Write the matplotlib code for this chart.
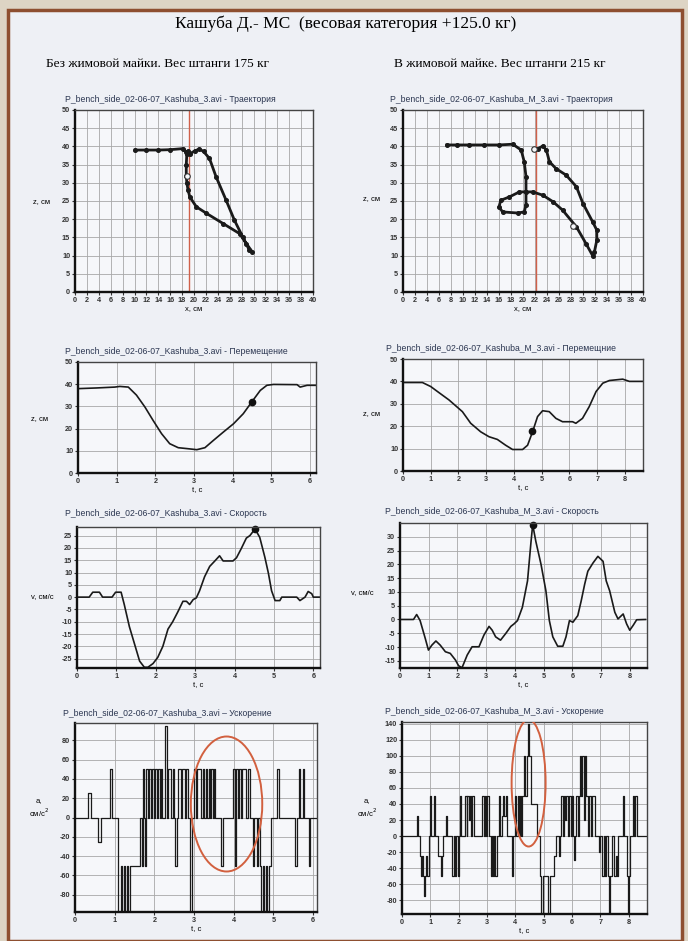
import numpy as np
import matplotlib
matplotlib.use("Agg")
import matplotlib.pyplot as plt
from matplotlib.patches import Rectangle, Ellipse

plt.rcParams['font.family'] = ['Liberation Sans', 'DejaVu Sans']
plt.rcParams['axes.unicode_minus'] = False

W, H = 688, 941

# ---- trajectory, без майки (x, z)
traj1_x = [10.1, 12.0, 14.0, 16.0, 18.2, 18.7, 19.3, 20.2, 20.9, 21.6, 22.6, 23.7, 25.4, 26.8, 28.2, 29.3, 29.8,
           28.8, 27.7, 24.9, 22.1, 20.4, 19.3, 19.0, 18.8, 18.7, 18.7, 18.8, 19.0]
traj1_z = [39.0, 39.0, 39.0, 39.1, 39.4, 38.4, 38.0, 38.8, 39.3, 38.6, 36.7, 31.7, 25.2, 19.7, 15.1, 11.5, 11.0,
           13.3, 16.0, 18.8, 21.6, 23.4, 26.1, 28.0, 30.0, 31.8, 35.0, 38.0, 38.6]
traj1_mark = (18.8, 31.8)
traj1_vline = 19.2

# ---- trajectory, в майке (x, z)
traj2_x = [21.8, 22.5, 23.3, 23.9, 24.4, 25.5, 27.2, 28.9, 30.0, 31.6, 32.3, 32.3, 31.9, 31.6, 30.5, 28.9, 26.6,
           25.0, 23.3, 21.6, 19.4, 17.7, 16.3, 16.0, 16.6, 19.1, 20.2, 20.5, 20.5, 20.5, 20.2, 19.7, 18.3, 16.0,
           13.5, 11.0, 9.0, 7.3]
traj2_z = [39.2, 39.4, 40.1, 39.0, 35.8, 33.9, 32.1, 28.9, 24.3, 19.3, 17.0, 14.2, 11.0, 10.0, 13.3, 17.9, 22.5,
           24.8, 26.6, 27.5, 27.5, 26.1, 25.2, 23.4, 22.0, 21.7, 22.0, 23.9, 27.5, 31.7, 35.8, 39.0, 40.6, 40.4,
           40.4, 40.4, 40.4, 40.4]
traj2_marks = [(28.3, 18.1), (21.8, 39.2)]
traj2_vline = 22.1

# ---- displacement z(t)
disp1_t = [0.0, 0.47, 0.95, 1.08, 1.3, 1.51, 1.73, 1.94, 2.16, 2.37, 2.59, 2.81, 3.07, 3.28, 3.5, 3.76, 4.02,
           4.27, 4.49, 4.71, 4.88, 5.05, 5.66, 5.74, 5.92, 6.16]
disp1_z = [38.0, 38.3, 38.7, 39.0, 38.7, 35.1, 29.7, 23.7, 17.7, 13.2, 11.4, 11.0, 10.5, 11.4, 14.7, 18.5, 22.2,
           26.7, 32.0, 37.2, 39.5, 39.9, 39.8, 38.7, 39.5, 39.5]
disp1_mark = (4.5, 32.0)

disp2_t = [0.0, 0.7, 1.0, 1.24, 1.66, 2.14, 2.44, 2.8, 3.1, 3.4, 3.7, 3.95, 4.31, 4.49, 4.67, 4.85, 5.03, 5.27,
           5.51, 5.75, 6.11, 6.23, 6.47, 6.71, 6.96, 7.2, 7.44, 7.68, 7.92, 8.16, 8.64]
disp2_z = [39.5, 39.5, 37.7, 35.5, 31.7, 26.5, 21.3, 17.5, 15.3, 14.1, 11.5, 9.6, 9.6, 11.5, 17.5, 24.3, 26.9,
           26.5, 23.5, 22.0, 22.0, 21.3, 23.5, 28.7, 35.5, 39.2, 40.4, 40.7, 41.0, 40.0, 40.0]
disp2_mark = (4.64, 18.0)

# ---- velocity v(t)
vel1_t = [0.0, 0.31, 0.4, 0.57, 0.65, 0.89, 0.98, 1.12, 1.2, 1.33, 1.46, 1.59, 1.71, 1.8, 1.93, 2.05, 2.18, 2.31,
          2.43, 2.56, 2.69, 2.78, 2.86, 2.95, 3.03, 3.11, 3.24, 3.37, 3.5, 3.62, 3.71, 3.96, 4.05, 4.17, 4.3,
          4.39, 4.52, 4.64, 4.77, 4.86, 4.94, 5.03, 5.15, 5.2, 5.58, 5.66, 5.79, 5.87, 5.96, 6.0, 6.17]
vel1_v = [0.0, 0.0, 2.0, 2.0, 0.0, 0.0, 2.0, 2.0, -3.0, -12.0, -19.0, -26.0, -28.5, -28.5, -27.0, -24.5, -20.0,
          -13.0, -10.0, -6.0, -1.7, -1.7, -3.0, -1.0, -0.3, 2.5, 8.3, 12.5, 14.7, 16.8, 14.7, 14.7, 16.0, 19.7,
          24.0, 25.0, 27.7, 24.3, 16.2, 9.7, 2.6, -1.4, -1.4, 0.0, 0.0, -1.4, 0.0, 2.3, 1.4, 0.0, 0.0]
vel1_mark = (4.52, 27.7)

vel2_t = [0.0, 0.47, 0.58, 0.7, 0.88, 0.99, 1.11, 1.25, 1.4, 1.58, 1.75, 1.93, 2.04, 2.16, 2.34, 2.51, 2.75, 2.92,
          3.1, 3.21, 3.33, 3.5, 3.68, 3.86, 3.97, 4.09, 4.26, 4.44, 4.56, 4.62, 4.73, 4.91, 5.08, 5.2, 5.32, 5.49,
          5.67, 5.78, 5.9, 6.02, 6.19, 6.31, 6.43, 6.54, 6.72, 6.89, 7.07, 7.18, 7.3, 7.48, 7.59, 7.77, 7.89,
          8.0, 8.12, 8.24, 8.55]
vel2_v = [0.0, 0.0, 1.8, -0.4, -6.9, -11.1, -9.3, -7.8, -9.3, -11.7, -12.3, -14.7, -16.8, -17.5, -12.9, -9.9,
          -9.9, -5.7, -2.5, -3.9, -6.3, -7.5, -5.1, -2.5, -1.6, -0.4, 4.4, 14.0, 28.0, 34.4, 28.3, 20.0, 10.4,
          -0.4, -6.3, -9.7, -9.7, -6.3, -0.4, -1.0, 1.4, 6.8, 12.8, 17.5, 20.5, 22.9, 21.1, 14.0, 10.4, 2.6, 0.2,
          2.0, -1.6, -3.9, -2.1, -0.1, 0.0]
vel2_mark = (4.62, 34.4)

# ---- acceleration a(t), step values
acc1_t = [0.00, 0.33, 0.40, 0.58, 0.65, 0.89, 0.94, 1.09, 1.16, 1.19, 1.24, 1.27, 1.31, 1.34, 1.38, 1.65,
          1.68, 1.71, 1.74, 1.77, 1.79, 1.83, 1.87, 1.92, 1.95, 1.99, 2.02, 2.06, 2.09, 2.13, 2.16, 2.20, 2.27,
          2.31, 2.35, 2.43, 2.46, 2.49, 2.53, 2.56, 2.60, 2.67, 2.70, 2.77, 2.81, 2.85, 2.91, 2.95, 3.00, 3.05,
          3.08, 3.18, 3.22, 3.26, 3.30, 3.33, 3.37, 3.40, 3.44, 3.47, 3.51, 3.54, 3.69, 3.73, 3.98, 4.03, 4.06,
          4.10, 4.14, 4.18, 4.22, 4.32, 4.36, 4.40, 4.48, 4.52, 4.58, 4.62, 4.66, 4.70, 4.74, 4.77, 4.81, 4.85,
          4.88, 4.95, 5.09, 5.13, 5.55, 5.59, 5.64, 5.68, 5.74, 5.78, 5.89, 5.93, 6.10]
acc1_a = [0, 25, 0, -25, 0, 50, 0, -100, -50, -100, -50, -100, -50, -100, -50, 0,
          -50, 50, 0, -50, 50, 0, 50, 0, 50, 0, 50, 0, 50, 0, 50, 0, 95,
          0, 50, 0, 50, 0, -50, 0, 50, 0, 50, 0, 50, 0, -100, 0, 50, 0,
          50, 0, 50, 0, 50, 0, 50, 0, 50, 0, 50, 0, -50, 0, 50, -50, 50,
          0, 50, 0, 50, 0, 50, 0, -50, 0, -50, 0, -50, -100, -50, -100, -50, -100,
          -50, 0, 50, 0, -50, 0, 50, 0, 50, 0, -50, 0, 0]
acc1_oval = (3.82, 14, 1.8, 140)

acc2_t = [0.00, 0.52, 0.57, 0.62, 0.66, 0.70, 0.74, 0.78, 0.82, 0.86, 0.90, 0.94, 0.98, 1.02, 1.13, 1.17,
          1.28, 1.36, 1.40, 1.46, 1.55, 1.60, 1.78, 1.82, 1.86, 1.92, 1.96, 2.02, 2.06, 2.10, 2.24, 2.28, 2.31,
          2.36, 2.40, 2.45, 2.48, 2.54, 2.84, 2.88, 2.92, 2.97, 3.01, 3.06, 3.13, 3.17, 3.21, 3.26, 3.30, 3.35,
          3.41, 3.45, 3.52, 3.57, 3.61, 3.66, 3.70, 3.88, 3.92, 4.00, 4.04, 4.08, 4.12, 4.16, 4.20, 4.24, 4.32,
          4.36, 4.40, 4.46, 4.50, 4.55, 4.78, 4.86, 4.92, 4.98, 5.15, 5.22, 5.36, 5.42, 5.53, 5.57, 5.63, 5.67,
          5.71, 5.76, 5.80, 5.85, 5.89, 5.95, 5.99, 6.03, 6.07, 6.11, 6.15, 6.20, 6.24, 6.30, 6.33, 6.37, 6.41,
          6.45, 6.49, 6.55, 6.59, 6.68, 6.72, 6.80, 6.96, 7.00, 7.06, 7.12, 7.16, 7.22, 7.26, 7.32, 7.36, 7.42,
          7.48, 7.54, 7.60, 7.64, 7.80, 7.84, 7.94, 7.98, 8.02, 8.06, 8.16, 8.20, 8.24, 8.30, 8.65]
acc2_a = [0, 25, 0, -25, -50, -25, -50, -75, -50, -25, -50, 0, 50, 0, 50, 0,
          -25, -50, -25, 0, 25, 0, -50, 0, -50, 0, -50, 0, 50, 0, 50, 0, 50,
          20, 50, 0, 50, 0, 50, 0, 50, 0, 50, 0, -50, 0, -50, 0, -50, 0,
          50, 0, 25, 50, 25, 50, 0, -50, 0, 50, 0, 50, 0, 50, 0, 50, 100,
          50, 100, 140, 100, 40, 0, -50, -100, -50, -100, -50, -25, 0, -25, 0, 50, 0,
          50, 20, 50, 0, 50, 0, 50, 0, -30, 0, 50, 0, 50, 100, 50, 100, 20,
          100, 50, 0, 50, 0, 50, 0, -20, 0, -50, 0, -50, 0, -50, -100, -50, 0,
          -50, -25, -50, 0, 50, 0, -50, -100, -50, 0, 50, 0, 50, 0, 0]
acc2_oval = (4.47, 66, 1.2, 158)


def rect(l, t, r, b):
    return [l / W, 1 - b / H, (r - l) / W, (b - t) / H]


def ftext(x, y, s, **kw):
    fig.text(x / W, 1 - y / H, s, **kw)


def style(ax, xlim, ylim, xticks, yticks):
    ax.set_facecolor('#f6f7fa')
    ax.set_xlim(*xlim)
    ax.set_ylim(*ylim)
    ax.set_xticks(xticks)
    ax.set_yticks(yticks)
    ax.grid(True, color='#a8a8a8', lw=0.6)
    ax.set_axisbelow(True)
    ax.tick_params(labelsize=5.2, length=2, pad=1.5, width=0.8, colors='#333')
    for lab in ax.get_xticklabels() + ax.get_yticklabels():
        lab.set_fontweight('bold')
    for s in ['left', 'bottom']:
        ax.spines[s].set_linewidth(1.7)
        ax.spines[s].set_color('#111')
    for s in ['top', 'right']:
        ax.spines[s].set_linewidth(1.0)
        ax.spines[s].set_color('#444')


fig = plt.figure(figsize=(6.88, 9.41), dpi=100)
fig.patch.set_facecolor('#ddd4c4')
fig.patches.append(Rectangle((8 / W, 0), (674) / W, 1 - 10 / H, transform=fig.transFigure,
                             facecolor='#eef0f5', edgecolor='#8e4f30', lw=2.5, zorder=-1))

ftext(346, 24, 'Кашуба Д.- МС  (весовая категория +125.0 кг)', ha='center', va='center',
      family='Liberation Serif', fontsize=12.5)
ftext(157, 64, 'Без жимовой майки. Вес штанги 175 кг', ha='center', va='center',
      family='Liberation Serif', fontsize=9.6)
ftext(500, 64, 'В жимовой майке. Вес штанги 215 кг', ha='center', va='center',
      family='Liberation Serif', fontsize=9.6)

lc = '#1a1a1a'
tc = '#2a3550'
tfs = 6.2

# trajectories
ax = fig.add_axes(rect(75, 110, 313, 292))
style(ax, (0, 40), (0, 50), range(0, 41, 2), range(0, 51, 5))
ax.axvline(traj1_vline, color='#d0604a', lw=1.0, zorder=2)
ax.plot(traj1_x, traj1_z, color=lc, lw=2.0, marker='o', ms=2.6, zorder=3)
ax.plot(*traj1_mark, marker='o', ms=4, mfc='#f6f7fa', mec='#333', mew=0.8, zorder=4)
ax.set_xlabel('x, см', fontsize=5.5, labelpad=1)
ftext(65, 100, 'P_bench_side_02-06-07_Kashuba_3.avi - Траектория', fontsize=tfs, va='center', color=tc)
ftext(42, 202, 'z, см', fontsize=5.5, ha='center', va='center')

ax = fig.add_axes(rect(403, 110, 643, 292))
style(ax, (0, 40), (0, 50), range(0, 41, 2), range(0, 51, 5))
ax.axvline(traj2_vline, color='#d0604a', lw=1.0, zorder=2)
ax.plot(traj2_x, traj2_z, color=lc, lw=2.0, marker='o', ms=2.6, zorder=3)
for m in traj2_marks:
    ax.plot(*m, marker='o', ms=4, mfc='#f6f7fa', mec='#333', mew=0.8, zorder=4)
ax.set_xlabel('x, см', fontsize=5.5, labelpad=1)
ftext(390, 99, 'P_bench_side_02-06-07_Kashuba_M_3.avi - Траектория', fontsize=tfs, va='center', color=tc)
ftext(372, 199, 'z, см', fontsize=5.5, ha='center', va='center')

# displacement
ax = fig.add_axes(rect(78, 362, 316, 473))
style(ax, (0, 6.15), (0, 50), range(0, 7), range(0, 51, 10))
ax.plot(disp1_t, disp1_z, color=lc, lw=1.2)
ax.plot(*disp1_mark, marker='o', ms=4.5, color='#111')
ax.set_xlabel('t, c', fontsize=5.5, labelpad=1)
ftext(65, 352, 'P_bench_side_02-06-07_Kashuba_3.avi - Перемещение', fontsize=tfs, va='center', color=tc)
ftext(40, 419, 'z, см', fontsize=5.5, ha='center', va='center')

ax = fig.add_axes(rect(403, 359, 643, 471))
style(ax, (0, 8.65), (0, 50), range(0, 9), range(0, 51, 10))
ax.plot(disp2_t, disp2_z, color=lc, lw=1.2)
ax.plot(*disp2_mark, marker='o', ms=4.5, color='#111')
ax.set_xlabel('t, c', fontsize=5.5, labelpad=1)
ftext(386, 349, 'P_bench_side_02-06-07_Kashuba_M_3.avi - Перемещние', fontsize=tfs, va='center', color=tc)
ftext(372, 414, 'z, см', fontsize=5.5, ha='center', va='center')

# velocity
ax = fig.add_axes(rect(77, 527, 320, 668))
style(ax, (0, 6.17), (-28.8, 28.5), range(0, 7), range(-25, 26, 5))
ax.plot(vel1_t, vel1_v, color=lc, lw=1.2)
ax.plot(*vel1_mark, marker='o', ms=4.5, color='#111', clip_on=False)
ax.set_xlabel('t, c', fontsize=5.5, labelpad=1)
ftext(65, 513, 'P_bench_side_02-06-07_Kashuba_3.avi - Скорость', fontsize=tfs, va='center', color=tc)
ftext(42, 597, 'v, см/с', fontsize=5.5, ha='center', va='center')

ax = fig.add_axes(rect(400, 523, 647, 668))
style(ax, (0, 8.6), (-17.6, 35), range(0, 9), range(-15, 31, 5))
ax.plot(vel2_t, vel2_v, color=lc, lw=1.2)
ax.plot(*vel2_mark, marker='o', ms=4.5, color='#111', clip_on=False)
ax.set_xlabel('t, c', fontsize=5.5, labelpad=1)
ftext(385, 512, 'P_bench_side_02-06-07_Kashuba_M_3.avi - Скорость', fontsize=tfs, va='center', color=tc)
ftext(362, 593, 'v, см/с', fontsize=5.5, ha='center', va='center')

# acceleration
ax = fig.add_axes(rect(75, 723, 317, 912))
style(ax, (0, 6.1), (-98, 98), range(0, 7), range(-80, 81, 20))
ax.plot(acc1_t, acc1_a, color=lc, lw=0.9, drawstyle='steps-post')
cx, cy, w, h = acc1_oval
ax.add_patch(Ellipse((cx, cy), w, h, fill=False, edgecolor='#d2603f', lw=1.4, zorder=5))
ax.set_xlabel('t, c', fontsize=5.5, labelpad=1)
ftext(63, 713, 'P_bench_side_02-06-07_Kashuba_3.avi – Ускорение', fontsize=tfs, va='center', color=tc)
ftext(39, 808, 'a,\nсм/с$^2$', fontsize=5.5, ha='center', va='center', linespacing=1.3)

ax = fig.add_axes(rect(402, 722, 647, 914))
style(ax, (0, 8.65), (-97, 142), range(0, 9), range(-80, 141, 20))
ax.plot(acc2_t, acc2_a, color=lc, lw=0.9, drawstyle='steps-post')
cx, cy, w, h = acc2_oval
ax.add_patch(Ellipse((cx, cy), w, h, fill=False, edgecolor='#d2603f', lw=1.4, zorder=5))
ax.set_xlabel('t, c', fontsize=5.5, labelpad=1)
ftext(385, 712, 'P_bench_side_02-06-07_Kashuba_M_3.avi - Ускорение', fontsize=tfs, va='center', color=tc)
ftext(367, 808, 'a,\nсм/с$^2$', fontsize=5.5, ha='center', va='center', linespacing=1.3)

fig.savefig('out.png', dpi=100, facecolor=fig.get_facecolor())
